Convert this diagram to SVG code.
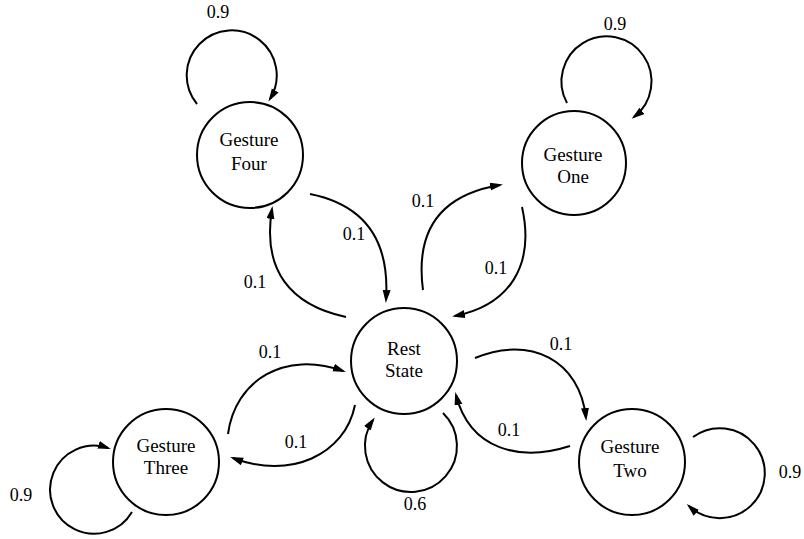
<svg xmlns="http://www.w3.org/2000/svg" width="804" height="539" viewBox="0 0 804 539">
<defs>
<style>
.node{fill:#fff;stroke:#000;stroke-width:2}
.edge{fill:none;stroke:#000;stroke-width:2;marker-end:url(#arr)}
.nt{font-family:"Liberation Serif","Times New Roman",serif;font-size:19px;text-anchor:middle;fill:#000}
.lb{font-family:"Liberation Serif","Times New Roman",serif;font-size:18px;text-anchor:middle;fill:#000}
</style>
<marker id="arr" markerUnits="userSpaceOnUse" markerWidth="14" markerHeight="10" refX="10" refY="4" orient="auto">
<path d="M0,0 L13,4 L0,8 Z" fill="#000"/>
</marker>
</defs>
<rect width="804" height="539" fill="#fff"/>
<g id="connectors">
<path class="edge" d="M197,104 A45,45 0 1,1 270,99"/>
<path class="edge" d="M567,103 A45,45 0 1,1 634,117"/>
<path class="edge" d="M310,194 C365,205 390,240 386,300"/>
<path class="edge" d="M346,317 C290,305 262,270 272,209"/>
<path class="edge" d="M423,290 C415,230 440,195 500,185"/>
<path class="edge" d="M522,207 C535,265 510,305 455,316"/>
<path class="edge" d="M475,358 C530,335 580,360 586,418"/>
<path class="edge" d="M570,446 C520,462 470,450 456,395"/>
<path class="edge" d="M228,434 C235,380 285,350 343,371"/>
<path class="edge" d="M355,405 C345,455 290,480 233,458"/>
<path class="edge" d="M443,413 A46,46 0 1,1 373,420"/>
<path class="edge" d="M132,512 A44,44 0 1,1 108,448"/>
<path class="edge" d="M693,437 A45,45 0 1,1 689,506"/>
<text class="lb" x="218" y="18">0.9</text>
<text class="lb" x="615" y="30">0.9</text>
<text class="lb" x="423" y="207">0.1</text>
<text class="lb" x="354" y="240">0.1</text>
<text class="lb" x="496" y="274">0.1</text>
<text class="lb" x="255" y="288">0.1</text>
<text class="lb" x="270" y="358">0.1</text>
<text class="lb" x="561" y="350">0.1</text>
<text class="lb" x="509" y="436">0.1</text>
<text class="lb" x="296" y="448">0.1</text>
<text class="lb" x="415" y="510">0.6</text>
<text class="lb" x="21" y="501">0.9</text>
<text class="lb" x="790" y="478">0.9</text>
</g>
<g id="gesture-four">
<circle class="node" cx="250" cy="155" r="53"/>
<text class="nt" x="249" y="146">Gesture</text>
<text class="nt" x="249" y="170">Four</text>
</g>
<g id="gesture-one">
<circle class="node" cx="574" cy="163" r="52"/>
<text class="nt" x="573" y="161">Gesture</text>
<text class="nt" x="573" y="183">One</text>
</g>
<g id="rest-state">
<circle class="node" cx="404" cy="361" r="53"/>
<text class="nt" x="404" y="355">Rest</text>
<text class="nt" x="404" y="377">State</text>
</g>
<g id="gesture-three">
<circle class="node" cx="166" cy="462" r="53"/>
<text class="nt" x="166" y="452">Gesture</text>
<text class="nt" x="166" y="474">Three</text>
</g>
<g id="gesture-two">
<circle class="node" cx="632" cy="462" r="53"/>
<text class="nt" x="630" y="453">Gesture</text>
<text class="nt" x="630" y="477">Two</text>
</g>
</svg>
